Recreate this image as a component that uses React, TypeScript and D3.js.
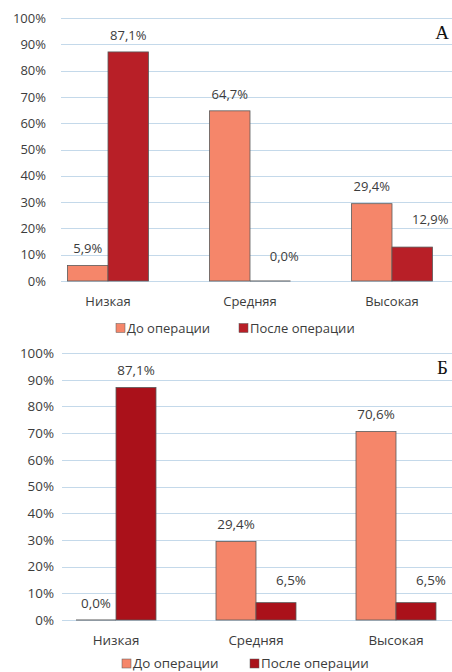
import React from "react";
import * as d3 from "d3";

// Distribution by level, before and after surgery (two panels)
const categories = ["Низкая", "Средняя", "Высокая"];
const seriesNames = ["До операции", "После операции"];

const beforeA = [5.9, 64.7, 29.4];
const afterA = [87.1, 0.0, 12.9];
const beforeB = [0.0, 29.4, 70.6];
const afterB = [87.1, 6.5, 6.5];

const yTicks = [0, 10, 20, 30, 40, 50, 60, 70, 80, 90, 100];
const panelLetters = ["А", "Б"];

const COLORS = {
  before: "#F5866A",
  afterA: "#B81F27",
  afterB: "#AA111A",
  grid: "#C4D9EA",
  text: "#3c3c3c",
  stroke: "#5A5A5A",
};

const FONT = "'Open Sans', 'Noto Sans', sans-serif";

type Layout = {
  yTop: number;
  yZero: number;
  band: [number, number];
  barW: number;
  gridX: [number, number];
  tickX: number;
  catY: number;
  legendY: number;
  legendX: [number, number];
  letter: [number, number];
  afterColor: string;
  fontSize: number;
  // per-bar label nudges [dx, dy] for [before, after]
  nudge: [number, number][][];
};

const layouts: Layout[] = [
  {
    yTop: 18,
    yZero: 281,
    band: [37, 463],
    barW: 40.5,
    gridX: [61, 452],
    tickX: 46,
    catY: 305.5,
    legendY: 328,
    legendX: [116, 239],
    letter: [449, 39],
    afterColor: COLORS.afterA,
    fontSize: 13,
    nudge: [
      [[0, 0], [0, 0], [0, 0]],
      [[0, 0], [14, -8], [18, -11]],
    ],
  },
  {
    yTop: 353,
    yZero: 620,
    band: [46, 466],
    barW: 40,
    gridX: [62, 452],
    tickX: 54,
    catY: 644.5,
    legendY: 663.5,
    legendX: [122, 250],
    letter: [448, 374],
    afterColor: COLORS.afterB,
    fontSize: 13.4,
    nudge: [
      [[0, 0], [0, 0], [0, 0]],
      [[0, 0], [15, -5], [15, -5]],
    ],
  },
];

const fmt = (v: number) => v.toFixed(1).replace(".", ",") + "%";

function Panel({
  before,
  after,
  letter,
  L,
}: {
  before: number[];
  after: number[];
  letter: string;
  L: Layout;
}) {
  const y = d3.scaleLinear().domain([0, 100]).range([L.yZero, L.yTop]);
  const x = d3.scaleBand<string>().domain(categories).range(L.band).padding(0);
  const step = x.bandwidth();
  const xs = d3
    .scaleBand<string>()
    .domain(seriesNames)
    .range([step / 2 - L.barW, step / 2 + L.barW])
    .padding(0);

  const series = [
    { name: seriesNames[0], values: before, color: COLORS.before },
    { name: seriesNames[1], values: after, color: L.afterColor },
  ];
  const fs = L.fontSize;

  return (
    <g>
      {yTicks.map((t) => (
        <g key={t}>
          <line
            x1={L.gridX[0]}
            x2={L.gridX[1]}
            y1={Math.round(y(t)) + 0.5}
            y2={Math.round(y(t)) + 0.5}
            stroke={COLORS.grid}
            strokeWidth={1}
          />
          <text
            x={L.tickX}
            y={y(t)}
            dy="0.36em"
            textAnchor="end"
            fontFamily={FONT}
            fontSize={fs}
            fill={COLORS.text}
          >
            {t}%
          </text>
        </g>
      ))}

      {series.map((s, si) =>
        categories.map((c, ci) => {
          const v = s.values[ci];
          const bx = (x(c) ?? 0) + (xs(s.name) ?? 0);
          const by = y(v);
          const h = y(0) - by;
          const [dx, dy] = L.nudge[si][ci];
          return (
            <g key={s.name + c}>
              {h > 0 ? (
                <rect
                  x={bx}
                  y={by}
                  width={xs.bandwidth()}
                  height={h}
                  fill={s.color}
                  stroke={COLORS.stroke}
                  strokeWidth={0.8}
                />
              ) : (
                <line
                  x1={bx}
                  x2={bx + xs.bandwidth()}
                  y1={y(0)}
                  y2={y(0)}
                  stroke={COLORS.stroke}
                  strokeWidth={1.2}
                />
              )}
              <text
                x={bx + xs.bandwidth() / 2 + dx}
                y={by - 12.3 + dy}
                textAnchor="middle"
                fontFamily={FONT}
                fontSize={fs}
                fill={COLORS.text}
              >
                {fmt(v)}
              </text>
            </g>
          );
        })
      )}

      {categories.map((c) => (
        <text
          key={c}
          x={(x(c) ?? 0) + step / 2}
          y={L.catY}
          textAnchor="middle"
          fontFamily={FONT}
          fontSize={fs}
          fill={COLORS.text}
        >
          {c}
        </text>
      ))}

      {series.map((s, si) => (
        <g key={s.name}>
          <rect
            x={L.legendX[si]}
            y={L.legendY - 4.5}
            width={9}
            height={9}
            fill={s.color}
            stroke={COLORS.stroke}
            strokeWidth={0.5}
          />
          <text
            x={L.legendX[si] + 11}
            y={L.legendY}
            dy="0.36em"
            fontFamily={FONT}
            fontSize={fs}
            fill={COLORS.text}
          >
            {s.name}
          </text>
        </g>
      ))}

      <text
        x={L.letter[0]}
        y={L.letter[1]}
        textAnchor="end"
        fontFamily="'Liberation Serif', 'DejaVu Serif', serif"
        fontSize={19}
        fill="#111"
      >
        {letter}
      </text>
    </g>
  );
}

export default function App() {
  return (
    <div style={{ position: "absolute", left: 0, top: 0 }}>
      <svg width={452} height={672} style={{ display: "block", background: "#fff" }}>
        <Panel before={beforeA} after={afterA} letter={panelLetters[0]} L={layouts[0]} />
        <Panel before={beforeB} after={afterB} letter={panelLetters[1]} L={layouts[1]} />
      </svg>
    </div>
  );
}
